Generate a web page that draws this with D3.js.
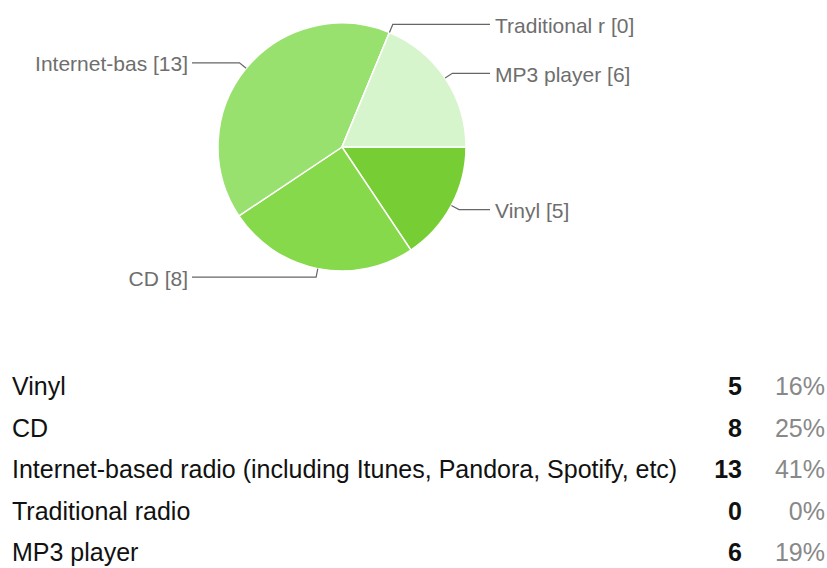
<!DOCTYPE html>
<html>
<head>
<meta charset="utf-8">
<script src="https://cdn.jsdelivr.net/npm/d3@7"></script>
<style>
  body { margin: 0; background: #fff; }
  svg { display: block; font-family: "Liberation Sans", Arial, Helvetica, sans-serif; }
</style>
</head>
<body>
<svg id="chart" width="827" height="568"></svg>
<script>
// data
var categories = ["Vinyl", "CD", "Internet-based radio (including Itunes, Pandora, Spotify, etc)", "Traditional radio", "MP3 player"]
var pieLabels = ["Vinyl", "CD", "Internet-bas", "Traditional r", "MP3 player"]
var counts = [5, 8, 13, 0, 6]
var colors = ["#76ce34", "#86d94b", "#98e16e", "#b5eb95", "#d6f5cc"]

var svg = d3.select("#chart")
var cx = 342, cy = 147, r = 124
var total = d3.sum(counts)

var pie = d3.pie().sort(null).value(function(d) { return d })
  .startAngle(Math.PI / 2).endAngle(Math.PI / 2 + 2 * Math.PI)
var arcs = pie(counts)
var arc = d3.arc().innerRadius(0).outerRadius(r)
var edge = d3.arc().innerRadius(r).outerRadius(r)
var knee = d3.arc().innerRadius(r * 1.07).outerRadius(r * 1.07)

var g = svg.append("g").attr("transform", "translate(" + cx + "," + cy + ")")

g.selectAll("path.slice").data(arcs).enter().append("path")
  .attr("class", "slice")
  .attr("d", arc)
  .attr("fill", function(d, i) { return colors[i] })
  .attr("stroke", "#fff").attr("stroke-width", 1.5)

// leader lines + labels
arcs.forEach(function(d, i) {
  var p = edge.centroid(d), k = knee.centroid(d)
  var right = p[0] > 0
  var endX = right ? 490 - cx : 192 - cx
  g.append("polyline")
    .attr("points", [p, [k[0], k[1]], [endX, k[1]]].map(function(q) { return q.join(",") }).join(" "))
    .attr("fill", "none").attr("stroke", "#666").attr("stroke-width", 1.2)
  g.append("text")
    .attr("x", right ? endX + 5 : endX - 4)
    .attr("y", k[1] + 1)
    .attr("text-anchor", right ? "start" : "end")
    .attr("dominant-baseline", "central")
    .style("font-size", "21px").style("fill", "#6e6e6e")
    .text(pieLabels[i] + " [" + counts[i] + "]")
})

// summary table
var rowY = d3.scalePoint().domain(d3.range(categories.length)).range([395, 561])

categories.forEach(function(c, i) {
  var y = rowY(i)
  svg.append("text").attr("x", 12).attr("y", y)
    .style("font-size", "25px").style("fill", "#111").text(c)
  svg.append("text").attr("x", 742).attr("y", y).attr("text-anchor", "end")
    .style("font-size", "25px").style("font-weight", "bold").style("fill", "#111").text(counts[i])
  svg.append("text").attr("x", 825).attr("y", y).attr("text-anchor", "end")
    .style("font-size", "25px").style("fill", "#888").text(Math.round(counts[i] / total * 100) + "%")
})
</script>
</body>
</html>
